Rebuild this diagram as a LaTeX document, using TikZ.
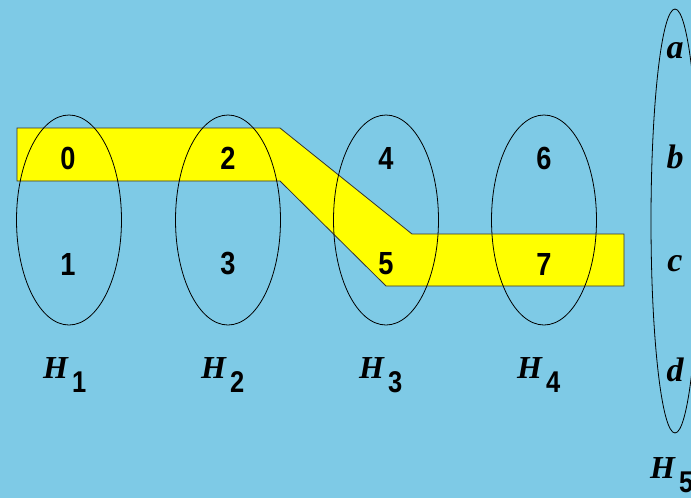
\documentclass[tikz,border=0pt]{standalone}
\usepackage{fontspec}
\usepackage{tikz}
\usetikzlibrary{shapes.geometric, positioning}
\newfontfamily\sanslab{Liberation Sans}
\newfontfamily\seriflab{Liberation Serif}
\definecolor{skyback}{RGB}{126,202,230}
\definecolor{pathyellow}{RGB}{255,255,0}
\newcommand{\hlab}[1]{{\seriflab\bfseries\itshape\fontsize{32}{32}\selectfont H}\kern4pt\raisebox{-14pt}{\sanslab\bfseries\fontsize{30}{30}\selectfont\scalebox{0.85}[1]{#1}}}
\newcommand{\num}[1]{\scalebox{0.85}[1]{#1}}
\tikzset{
  vert/.style={font=\sanslab\bfseries\fontsize{32}{32}\selectfont, inner sep=0pt},
  letter/.style={font=\seriflab\bfseries\itshape\fontsize{34}{34}\selectfont, inner sep=0pt},
  edge/.style={draw=black, line width=0.8pt, ellipse, inner sep=0pt},
  hname/.style={anchor=base west, inner sep=0pt}
}
\begin{document}
\begin{tikzpicture}[x=1pt, y=-1pt]
    % Background
    \fill[skyback] (0,0) rectangle (691,498);
    \useasboundingbox (0,0) rectangle (691,498);

    % Yellow path through the hypergraph
    \draw[fill=pathyellow, draw=black!80, line width=0.8pt]
        (17,128) -- (280,128) -- (412,234) -- (624,234) -- (624,286)
        -- (386,286) -- (280,181) -- (17,181) -- cycle;

    % Vertices
    \node[vert] (n0) at (68,158) {\num{0}};
    \node[vert] (n1) at (68,264) {\num{1}};
    \node[vert] (n2) at (228,158) {\num{2}};
    \node[vert] (n3) at (228,264) {\num{3}};
    \node[vert] (n4) at (386,158) {\num{4}};
    \node[vert] (n5) at (386,264) {\num{5}};
    \node[vert] (n6) at (544,158) {\num{6}};
    \node[vert] (n7) at (544,264) {\num{7}};

    % Hyperedges
    \node[edge, minimum width=105pt, minimum height=210pt] (e1) at (69,220) {};
    \node[edge, minimum width=105pt, minimum height=210pt] (e2) at (228,220) {};
    \node[edge, minimum width=105pt, minimum height=210pt] (e3) at (386,220) {};
    \node[edge, minimum width=105pt, minimum height=210pt] (e4) at (544,220) {};
    \node[edge, minimum width=48pt, minimum height=424pt] (e5) at (675,221) {};

    % Letters in the last edge
    \node[letter] (la) at (675,51) {a};
    \node[letter] (lb) at (675,157) {b};
    \node[letter] (lc) at (675,264) {c};
    \node[letter] (ld) at (675,370) {d};

    % Edge names
    \node[hname] (h1) at (43,378) {\hlab{1}};
    \node[hname] (h2) at (201,378) {\hlab{2}};
    \node[hname] (h3) at (359,378) {\hlab{3}};
    \node[hname] (h4) at (517,378) {\hlab{4}};
    \node[hname] (h5) at (650,478) {\hlab{5}};
\end{tikzpicture}
\end{document}
